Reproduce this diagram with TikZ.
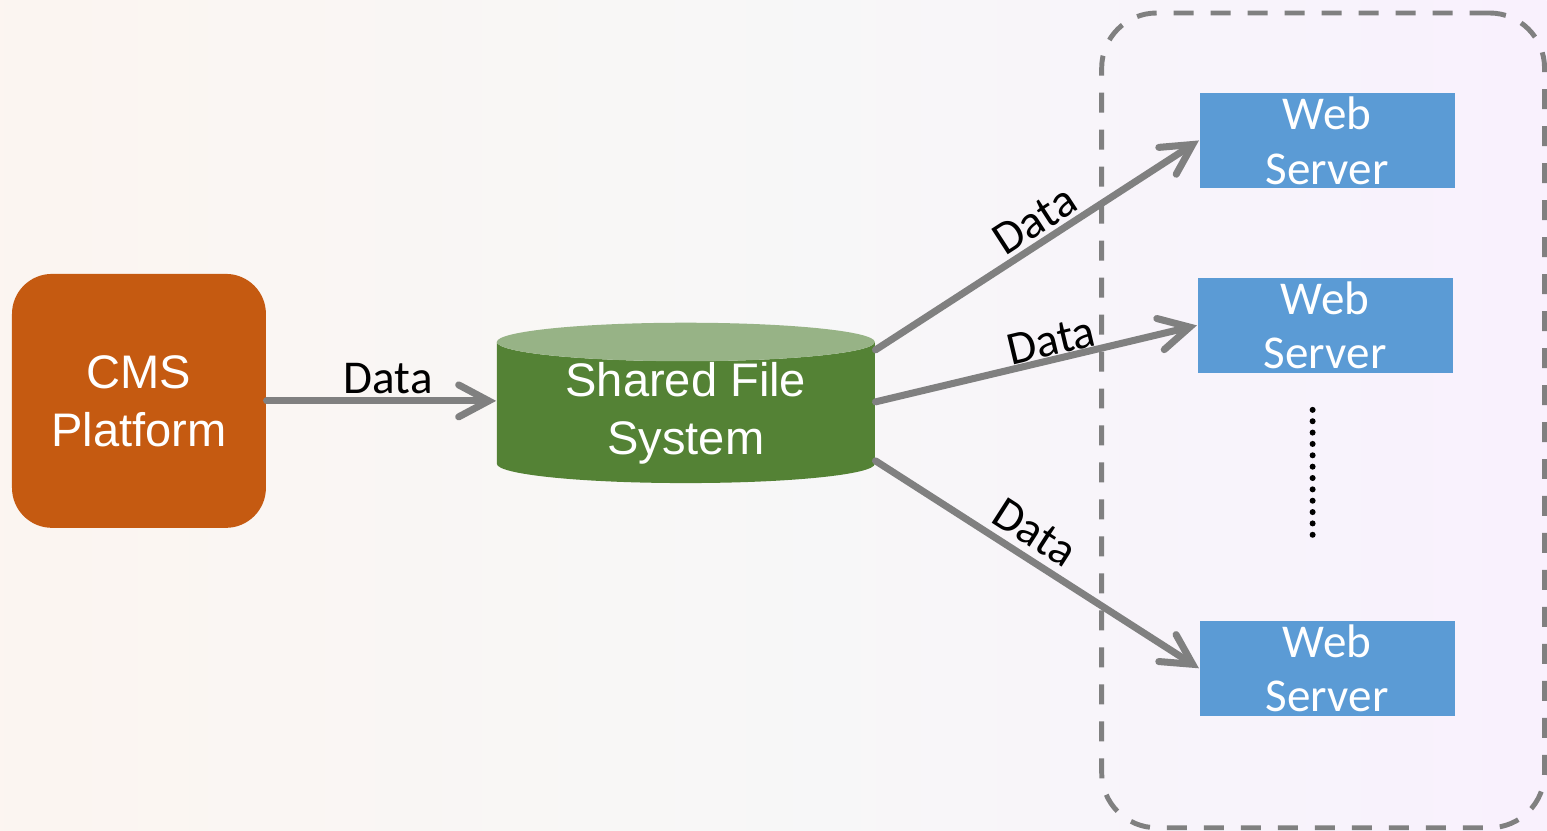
\documentclass[tikz,border=0pt]{standalone}
\usepackage{fontspec}
\setmainfont{Liberation Sans}
\newfontfamily\cali{Carlito}
\usetikzlibrary{arrows.meta,shapes.geometric}
\definecolor{cmsorange}{HTML}{C55A11}
\definecolor{fsgreen}{HTML}{548235}
\definecolor{fstop}{HTML}{97B386}
\definecolor{webblue}{HTML}{5B9BD5}
\definecolor{linegray}{HTML}{808080}
\begin{document}
\begin{tikzpicture}[
    plataforma/.style={rectangle, rounded corners=0.4cm, fill=cmsorange, minimum size=2.54cm,
      inner sep=0pt, text=white, align=center, font=\fontsize{13.4}{16.5}\selectfont},
    disco/.style={cylinder, shape border rotate=90, aspect=0.16, minimum width=3.78cm,
      minimum height=1.15cm, inner sep=0pt, cylinder uses custom fill,
      cylinder body fill=fsgreen, cylinder end fill=fstop, text=white, align=center,
      font=\fontsize{13.4}{16.5}\selectfont},
    servidor/.style={rectangle, fill=webblue, minimum width=2.55cm, minimum height=0.95cm,
      inner sep=0pt, text=white, align=center, font=\cali\fontsize{13.4}{15.6}\selectfont},
    grupo/.style={rectangle, draw=linegray, line width=1.4pt, dash pattern=on 0.2cm off 0.17cm,
      rounded corners=0.55cm, minimum width=4.43cm, minimum height=8.15cm},
    flecha/.style={draw=linegray, line width=2pt, line cap=round,
      -{Straight Barb[length=3mm, width=3.2mm, line cap=round]}},
    etiq/.style={font=\cali\fontsize{13.4}{15}\selectfont, inner sep=1pt}]
  \shade[left color=cmsorange!6!white, right color=webblue!4!white!96!magenta,
    middle color=black!3!white] (0,0) rectangle (15.47,8.31);
  \node[grupo]      (grp)  at (13.235,4.105) {};
  \node[plataforma] (cms)  at (1.39,4.30)    {CMS\\Platform};
  \node[disco]      (sfs)  at (6.86,4.18)    {Shared File\\System};
  \node[servidor]   (web1) at (13.275,6.905) {Web\\Server};
  \node[servidor]   (web2) at (13.255,5.055) {Web\\Server};
  \node[servidor]   (web3) at (13.275,1.625) {Web\\Server};
  \coordinate (dtop) at (13.13,4.21);
  \coordinate (dbot) at (13.13,2.96);
  \draw[line width=0.06cm, line cap=round, dash pattern=on 0pt off 0.1136cm] (dtop) -- (dbot);
  \draw[flecha] (cms.east) -- node[etiq, above=0pt, pos=0.53] {Data} (cms.east -| sfs.west);
  \draw[flecha] ([yshift=6.3mm]sfs.east) -- node[etiq, sloped, above=0pt, pos=0.53] {Data} (web1.west);
  \draw[flecha] ([yshift=1.1mm]sfs.east) -- node[etiq, sloped, above=-1pt, pos=0.56] {Data} (web2.west);
  \draw[flecha] ([yshift=-4.8mm]sfs.east) -- node[etiq, sloped, above=1pt, pos=0.45] {Data} (web3.west);
\end{tikzpicture}
\end{document}
